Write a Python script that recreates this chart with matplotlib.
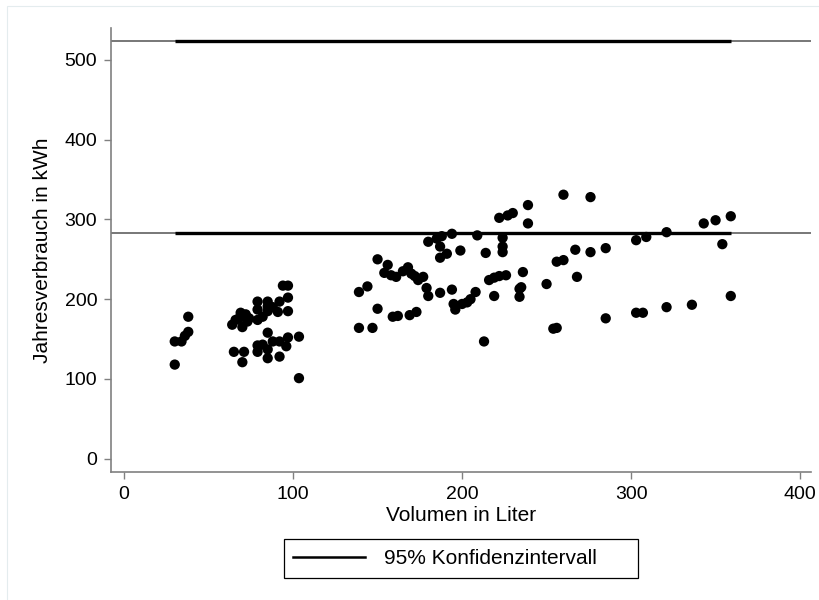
import matplotlib
matplotlib.use("Agg")
import matplotlib.pyplot as plt
from matplotlib.lines import Line2D
from matplotlib.patches import Rectangle

plt.rcParams['font.family'] = ['Liberation Sans', 'DejaVu Sans']

# Volumen in Liter
volumen = [30, 30, 34, 36, 38, 38,
           64, 65, 66, 68, 69, 70, 70, 71, 72, 73, 74,
           79, 79, 79, 79, 79, 82, 82, 85, 85, 85, 85, 85, 85, 88, 88, 91, 92, 92, 92,
           94, 97, 97, 97, 97, 96, 103.5, 103.5,
           139, 144, 150, 139, 147, 159, 162, 169, 173, 150, 156, 154, 158, 161, 165,
           168, 170, 172, 174, 177, 179, 180, 187, 194, 195, 196, 200, 203, 205, 208,
           219, 213, 180, 185, 188, 187, 187, 191, 194, 199, 209, 214, 216, 219, 222,
           226, 222, 227, 230, 224, 224, 224, 236, 234, 235, 234, 239, 239,
           250, 254, 256, 256, 260, 267, 268, 260, 276, 276, 285, 285, 303, 309, 303,
           307, 321, 321, 336, 343, 350, 359, 354, 359]
# Jahresverbrauch in kWh
verbrauch = [118, 147, 147, 154, 159, 178,
             168, 134, 174, 176, 183, 165, 121, 134, 181, 172, 176,
             197, 187, 174, 142, 134, 178, 143, 197, 185, 191, 137, 126, 158, 190, 147,
             184, 197, 147, 128, 217, 217, 202, 185, 152, 141, 153, 101,
             209, 216, 188, 164, 164, 178, 179, 180, 184, 250, 243, 233, 230, 228, 235,
             240, 232, 229, 224, 228, 214, 204, 208, 212, 194, 187, 194, 196, 200, 209,
             204, 147, 272, 276, 279, 266, 252, 257, 282, 261, 280, 258, 224, 227, 229,
             230, 302, 305, 308, 277, 266, 259, 234, 213, 215, 203, 318, 295,
             219, 163, 164, 247, 249, 262, 228, 331, 328, 259, 264, 176, 274, 278, 183,
             183, 284, 190, 193, 295, 299, 304, 269, 204]

ci_upper = 524
ci_lower = 283
legend_label = "95% Konfidenzintervall"
xticks = [0, 100, 200, 300, 400]
yticks = [0, 100, 200, 300, 400, 500]

W, H = 820, 600
fig = plt.figure(figsize=(8.2, 6.0), dpi=100)

# faint outer graph-region border (Stata style)
fig.add_artist(Rectangle((7 / W, -0.05), 1.1, 1 - 6 / H + 0.05,
                         transform=fig.transFigure, fill=False,
                         edgecolor='#e4ecee', linewidth=0.8))

ax = fig.add_axes([0.1354, 0.2133, 0.8537, 0.74])

spine_col = '#808080'
xmin, xmax = -7.7, 406.5
ax.set_xlim(xmin, xmax)
ax.set_ylim(-16.7, 540)

for yv in (ci_upper, ci_lower):
    ax.axhline(yv, color='#606060', lw=1.2, zorder=1)
    ax.plot([min(volumen), max(volumen)], [yv, yv], color='black', lw=2.4,
            solid_capstyle='butt', zorder=2)

ax.scatter(volumen, verbrauch, s=55, color='black', edgecolors='none', zorder=3)

for s in ('top', 'right'):
    ax.spines[s].set_visible(False)
for s in ('left', 'bottom'):
    ax.spines[s].set_color(spine_col)
    ax.spines[s].set_linewidth(1.2)

ax.set_xticks(xticks)
ax.set_yticks(yticks)
ax.tick_params(axis='both', direction='out', length=5, width=1.0, color=spine_col,
               labelsize=14, labelcolor='black', pad=5)
ax.set_xlabel("Volumen in Liter", fontsize=15, labelpad=2)
ax.set_ylabel("Jahresverbrauch in kWh", fontsize=15, labelpad=9)

# legend: frame drawn separately (Stata-style wider box)
fig.add_artist(Rectangle((284 / W, 1 - 578 / H), (638 - 284) / W, (578 - 539) / H,
                         transform=fig.transFigure, fill=False, edgecolor='black',
                         linewidth=0.9))
handle = Line2D([0], [0], color='black', lw=1.8)
leg = fig.legend([handle], [legend_label], loc='center left',
                 bbox_to_anchor=(293 / W, 1 - 558.5 / H), frameon=False,
                 fontsize=15, handlelength=3.45, borderpad=0,
                 handletextpad=0.9, borderaxespad=0)

fig.savefig("out.png", dpi=100, facecolor='white')
